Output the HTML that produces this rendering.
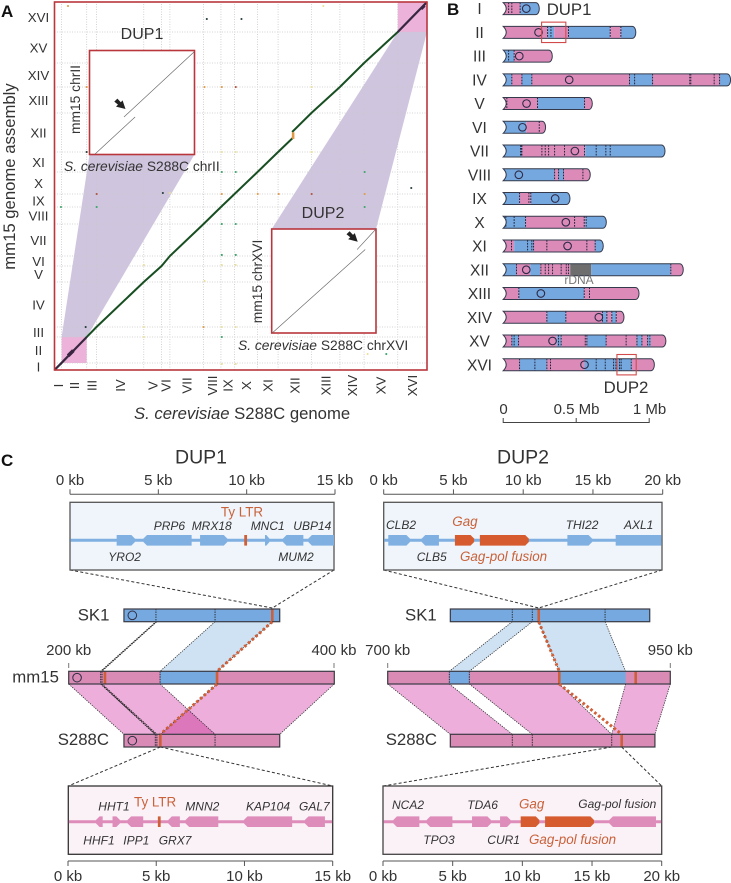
<!DOCTYPE html>
<html lang="en">
<head>
<meta charset="utf-8">
<title>Genome assembly figure</title>
<style>
html,body{margin:0;padding:0;background:#fff;width:731px;height:883px;overflow:hidden}
svg{display:block;font-family:"Liberation Sans",sans-serif}
text{fill:#333}
.gene{font-size:12px;font-style:italic}
.tick{font-size:15px;text-anchor:middle}
.orange{fill:#c9623a}
.track{font-size:16.8px}
.c-sub{font-size:13.3px;text-anchor:middle}
</style>
</head>
<body>
<svg id="figure" width="731" height="883" viewBox="0 0 731 883" xmlns="http://www.w3.org/2000/svg">
  <g id="panelA"></g>
  <text x="1" y="17" font-size="17" font-weight="bold" style="fill:#111">A</text>
  <text transform="translate(15,176.5) rotate(-90)" text-anchor="middle" font-size="16.7">mm15 genome assembly</text>
  <text x="134" y="419" font-size="16.7"><tspan font-style="italic">S. cerevisiae</tspan> S288C genome</text>
  <text x="142" y="39" text-anchor="middle" font-size="16">DUP1</text>
  <text x="323" y="218" text-anchor="middle" font-size="16">DUP2</text>
  <text transform="translate(80,99.5) rotate(-90)" text-anchor="middle" font-size="13.8">mm15 chrII</text>
  <text x="64" y="171" font-size="13.8"><tspan font-style="italic">S. cerevisiae</tspan> S288C chrII</text>
  <text transform="translate(262,281.5) rotate(-90)" text-anchor="middle" font-size="13.8">mm15 chrXVI</text>
  <text x="238" y="350" font-size="13.8"><tspan font-style="italic">S. cerevisiae</tspan> S288C chrXVI</text>

  <g id="panelB"></g>
  <text x="447" y="15" font-size="17" font-weight="bold" style="fill:#111">B</text>
  <text x="546.7" y="15" font-size="16.8">DUP1</text>
  <text x="626" y="393" text-anchor="middle" font-size="16.8">DUP2</text>
  <text x="579" y="284" text-anchor="middle" font-size="12" style="fill:#777">rDNA</text>
  <text class="tick" x="503.5" y="414">0</text>
  <text class="tick" x="576.5" y="414">0.5 Mb</text>
  <text class="tick" x="649.5" y="414">1 Mb</text>

  <g id="panelC"></g>
  <text x="1" y="466" font-size="17" font-weight="bold" style="fill:#111">C</text>
  <text x="201" y="463.5" text-anchor="middle" font-size="19.5">DUP1</text>
  <text x="523" y="463.5" text-anchor="middle" font-size="19.5">DUP2</text>

  <g>
    <text class="gene" x="153.7" y="530">PRP6</text>
    <text class="gene" x="191.7" y="530">MRX18</text>
    <text class="gene" x="250.7" y="530">MNC1</text>
    <text class="gene" x="293.3" y="530">UBP14</text>
    <text class="gene" x="108.3" y="561">YRO2</text>
    <text class="gene" x="278.3" y="561">MUM2</text>
    <text class="orange" x="242" y="516.7" text-anchor="middle" font-size="13.4">Ty LTR</text>
  </g>
  <g>
    <text class="gene" x="386" y="529">CLB2</text>
    <text class="gene" x="416.7" y="561">CLB5</text>
    <text class="gene" x="565.7" y="529">THI22</text>
    <text class="gene" x="624" y="529">AXL1</text>
    <text class="gene orange" x="452.3" y="526" style="font-size:13.4px">Gag</text>
    <text class="gene orange" x="460" y="561" style="font-size:13.4px">Gag-pol fusion</text>
  </g>
  <g>
    <text class="gene" x="98.3" y="810.7">HHT1</text>
    <text class="gene" x="185.3" y="810.7">MNN2</text>
    <text class="gene" x="246" y="810.7">KAP104</text>
    <text class="gene" x="299" y="810.7">GAL7</text>
    <text class="gene" x="83.3" y="844.3">HHF1</text>
    <text class="gene" x="123.3" y="844.3">IPP1</text>
    <text class="gene" x="158.7" y="844.3">GRX7</text>
    <text class="orange" x="134" y="806.7" font-size="13.4">Ty LTR</text>
  </g>
  <g>
    <text class="gene" x="392" y="809">NCA2</text>
    <text class="gene" x="467.3" y="809">TDA6</text>
    <text class="gene" x="578.3" y="808">Gag-pol fusion</text>
    <text class="gene" x="423.3" y="844">TPO3</text>
    <text class="gene" x="487.3" y="844">CUR1</text>
    <text class="gene orange" x="519" y="808.3" style="font-size:13.4px">Gag</text>
    <text class="gene orange" x="529" y="844" style="font-size:13.4px">Gag-pol fusion</text>
  </g>

  <text class="track" x="77.7" y="620.7">SK1</text>
  <text class="track" x="12.3" y="682.7">mm15</text>
  <text class="track" x="57.7" y="745">S288C</text>
  <text class="track" x="405" y="620.7">SK1</text>
  <text class="track" x="385.7" y="745">S288C</text>
  <text class="tick" x="68.7" y="655">200 kb</text>
  <text class="tick" x="334" y="655">400 kb</text>
  <text class="tick" x="387.7" y="655">700 kb</text>
  <text class="tick" x="670.3" y="655">950 kb</text>
</svg>

<script>
/* ---------- Panel A data (kb) ---------- */
const chromNames = ['I','II','III','IV','V','VI','VII','VIII','IX','X','XI','XII','XIII','XIV','XV','XVI'];
const s288cLengthsKb = [230,813,317,1532,577,270,1091,563,440,745,667,1078,924,784,1091,948];
const mm15LengthsKb = [227,842,324,1459,518,324,1037,551,421,713,648,1264,842,778,1005,972];
const dotXKb = [437,4935,6058,8712,1042,4861,5421,5874,8333,1042,5421,5874,8333,5421,5874,10049,1366,3511,3738,5421,6586,7265,8333,10049,11560,210,1366,10049,5421,5874,5421,5874,5421,5874,2897,4861,1010,2897,4828,5421,5874,2897,5421,10146,10751,5421,5874];
const dotYKb = [11795,11374,11374,11795,9170,9170,9170,9170,9170,7064,7064,7064,7064,6416,6416,6416,5703,5736,5736,5703,5703,5703,5703,5703,5898,5282,5282,5282,4731,4731,3727,3727,3402,3402,3402,2884,1393,1393,1393,1393,1393,1069,1069,518,518,194,194];
const dotKinds = ['o','d','d','y','o','o','o','r','y','d','y','y','y','g','g','g','r','d','y','o','o','o','r','o','d','g','g','g','g','g','g','g','y','y','y','y','d','y','o','y','y','y','g','y','g','y','y'];
const alignmentBeforeRdnaX = [0,230,1043,1360,2892,3469,3739,4830,5393,5833,6578,7245,7718];
const alignmentBeforeRdnaY = [0,227,1069,1393,2852,3370,3694,4731,5282,5703,6416,7064,7518];
const alignmentAfterRdnaX = [7700,8323,9247,10031,11122,12070];
const alignmentAfterRdnaY = [7712,8328,9170,9948,10953,11925];
const chrIIBumpX = [440,610];
const chrIIBumpY = [460,630];
const chrXVIBumpX = [11880,11990];
const chrXVIBumpY = [11700,11810];
const dup1InsetSegmentsX = [[43,353],[267,809]];
const dup1InsetSegmentsY = [[4,304],[304,830]];
const dup2InsetSegmentsX = [[10,850],[776,948]];
const dup2InsetSegmentsY = [[5,780],[780,972]];

/* ---------- Panel B data (Mb) ---------- */
const chromLengthsMb = [.249,.91,.338,1.559,.612,.292,1.11,.598,.459,.708,.687,1.235,.932,.829,1.116,1.037];
const centromeresMb = [.158,.242,.11,.452,.16,.132,.491,.107,.356,.429,.441,.158,.258,.655,.338,.557];
const segmentColors = ['pb','pbpbpb','bp','bpbpbpb','pbp','bp','bpb','bpbp','bpb','bpb','pbpb','bpbpgbp','pbp','pbpbpbp','pbpbpbpbpbp','pbpbp'];
const breakpointsMb = [
 [.116],[.304,.349,.447,.733,.806],[.075],[.059,.128,.196,.865,1.023,1.482],[.235,.557],[.158],[.128,.562],[.352,.379,.413],[.112,.189],[.153,.562],[.075,.208,.63],[.091,.185,.253,.459,.603,1.148],[.107,.555],[.299,.429,.68,.71,.744,.774],[.059,.105,.368,.397,.573,.705,.916,.95,.989,1.011],[.112,.299,.557,.881]
];
const dashesMb = [
 [.037,.059,.116],[.304,.327,.447,.733,.806],[.037,.075],[.059,.128,.196,.865,.9,1.023,1.278,1.285,1.445,1.482],[.025,.235,.557],[.247],[.119,.124,.128,.265,.288,.311,.352,.42,.557,.637,.703,.733],[.352,.379,.413,.546],[.112,.176,.189],[.018,.075,.153,.489,.555,.568],[.057,.167,.196,.208,.299,.573,.63],[.091,.258,.288,.311,.338,.397,.432,.447,1.148],[.107,.555,.591],[.299,.429,.68,.71,.744,.774],[.059,.075,.105,.379,.397,.562,.573,.705,.842,.916,.95,.989,1.005],[.112,.217,.299,.324,.637,.699,.756,.772,.797,.808,.877]
];
const dupBoxChrom = [1,15];
const dupBoxStartMb = [.263,.779];
const dupBoxEndMb = [.429,.911];
const scaleTicksMb = [0,.5,1];

/* ---------- Panel C data ---------- */
const dup1TopGeneStart = [2.65,4.17,7.39,11.08,12.1,13.54];
const dup1TopGeneEnd = [3.69,6.91,8.94,11.33,13.26,15];
const dup1TopGeneDir = [1,-1,1,1,-1,-1];
const dup1BottomGeneStart = [1.57,2.51,3.36,5.67,6.65,9.96,13.42];
const dup1BottomGeneEnd = [1.95,2.93,4.25,6.33,8.51,12.7,14.56];
const dup1BottomGeneDir = [-1,1,-1,-1,-1,-1,-1];
const dup2TopGeneStart = [.33,2.73,13.2,16.67];
const dup2TopGeneEnd = [1.89,3.97,14.98,19.95];
const dup2TopGeneDir = [1,-1,1,0];
const dup2BottomGeneStart = [.74,3.13,6.39,8.4,16.24];
const dup2BottomGeneEnd = [2.61,4.98,7.75,9.16,19.59];
const dup2BottomGeneDir = [-1,-1,1,1,-1];
const dup2TopTyStart = [5.12,6.91];
const dup2TopTyEnd = [6.5,10.43];
const dup2BottomTyStart = [9.88,11.63];
const dup2BottomTyEnd = [11.22,15.14];
const dup1TopLtrKb = [9.98];
const dup1BottomLtrKb = [5.16];
const dup1RulerTicks = [0,5,10,15];
const dup2RulerTicks = [0,5,10,15,20];

const dup1Sk1Kb = {start:241.6,end:358.9,cen:247.9,dashes:[265.7,310.2],ltr:[353.3]};
const dup1Mm15Kb = {start:200,end:400,cen:206.3,dashes:[224.1,225.1,268.8,311.7],ltr:[227.3,311.7]};
const dup1S288cKb = {start:241.6,end:358.9,cen:247.9,dashes:[265.2,266.4,310.2],ltr:[269]};
const dup1Mm15BlueKb = [[268.8,311.7]];
const dup1BlueRibbonsKb = [[310.2,353.3,268.8,311.7]];
const dup1PinkRibbonsKb = [[200,224.1,241.6,265.2],[224.1,268.8,265.2,310.2],[311.7,400,269,358.9]];
const dup1UpperLinksKb = [[265.7,224.1],[266.3,224.9]];
const dup1LowerLinksKb = [[224.1,265.2],[225.1,266.4]];
const dup2Sk1Kb = {start:755.4,end:931.8,dashes:[810.2,827.9,892.3],ltr:[833.6]};
const dup2Mm15Kb = {start:700,end:950,dashes:[754.5,772.2],ltr:[851.8,919.4]};
const dup2S288cKb = {start:755.4,end:936.4,dashes:[810.2,827.9,898.2],ltr:[907]};
const dup2Mm15BlueKb = [[754.5,772.2],[851.8,910.5]];
const dup2BlueRibbonsKb = [[810.2,827.9,754.5,772.2],[833.6,892.3,851.8,910.5]];
const dup2PinkRibbonsKb = [[700,754.5,755.4,810.2],[772.2,851.8,827.9,898.2],[910.5,950,898.2,936.4]];

const NS = 'http://www.w3.org/2000/svg';
function mk(parent, tag, attrs) {
  const e = document.createElementNS(NS, tag);
  for (const k in attrs) e.setAttribute(k, attrs[k]);
  parent.appendChild(e);
  return e;
}
const cumulate = a => { let s = 0; return [0].concat(a.map(v => (s += v))); };

/* ---------- Panel A ---------- */
const A = document.getElementById('panelA');
const FX0 = 54.5, FX1 = 427, FY0 = 370, FY1 = 2;
const sCum = cumulate(s288cLengthsKb), mCum = cumulate(mm15LengthsKb);
const ax = kb => FX0 + kb * (FX1 - FX0) / sCum[16];
const ay = kb => FY0 - kb * (FY0 - FY1) / mCum[16];
const RED = '#b9363d';

const dup1Inset = {x0:89.5,x1:194.5,y0:154.5,y1:50.5,xMax:s288cLengthsKb[1],yMax:mm15LengthsKb[1]};
const dup2Inset = {x0:271.7,x1:376,y0:333,y1:229,xMax:s288cLengthsKb[15],yMax:mm15LengthsKb[15]};

const dup1Fan = mk(A,'polygon',{points:`${ax(sCum[1])},${ay(mCum[2])} ${ax(sCum[2])},${ay(mCum[2])} ${dup1Inset.x1},${dup1Inset.y0} ${dup1Inset.x0},${dup1Inset.y0}`,fill:'#d0c5df'});


const dup2Fan = mk(A,'polygon',{points:`${ax(sCum[15])},${ay(mCum[15])} ${ax(sCum[16])},${ay(mCum[15])} ${dup2Inset.x1},${dup2Inset.y1} ${dup2Inset.x0},${dup2Inset.y1}`,fill:'#d0c5df'});


const dup1Pink = mk(A,'rect',{x:ax(sCum[1]),y:ay(mCum[2]),width:ax(sCum[2])-ax(sCum[1]),height:ay(mCum[1])-ay(mCum[2]),fill:'#ecb2da'});


const dup2Pink = mk(A,'rect',{x:ax(sCum[15]),y:ay(mCum[16]),width:ax(sCum[16])-ax(sCum[15]),height:ay(mCum[15])-ay(mCum[16]),fill:'#ecb2da'});



for (let i = 1; i < 16; i++) {
  const vg = mk(A,'line',{x1:ax(sCum[i]),x2:ax(sCum[i]),y1:FY0,y2:FY1,stroke:'#c8c8c8','stroke-width':.8,'stroke-dasharray':'1 1.5'});
  
  
  const hg = mk(A,'line',{x1:FX0,x2:FX1,y1:ay(mCum[i]),y2:ay(mCum[i]),stroke:'#c8c8c8','stroke-width':.8,'stroke-dasharray':'1 1.5'});
  
  
}

const dotColor = {g:'#3aa36a',d:'#243a3a',o:'#e09a45',y:'#ecdf8f',r:'#b0513a'};
dotXKb.forEach((x, i) => {
  const d = mk(A,'circle',{cx:ax(x),cy:ay(dotYKb[i]),r:dotKinds[i]==='y'?1:1.05,fill:dotColor[dotKinds[i]]});
  
  
});

const toPts = (xs, ys) => xs.map((x, i) => `${ax(x)},${ay(ys[i])}`).join(' ');
const lineA = mk(A,'polyline',{points:toPts(alignmentBeforeRdnaX,alignmentBeforeRdnaY),fill:'none',stroke:'#184f22','stroke-width':2});


const lineB = mk(A,'polyline',{points:toPts(alignmentAfterRdnaX,alignmentAfterRdnaY),fill:'none',stroke:'#184f22','stroke-width':2});


const chrIILine = mk(A,'line',{x1:ax(0),y1:ay(0),x2:ax(sCum[2]),y2:ay(mCum[2]),stroke:'#3a2642','stroke-width':2});


const chrXVILine = mk(A,'line',{x1:ax(sCum[15]),y1:ay(mCum[15]),x2:ax(sCum[16]),y2:ay(mCum[16]),stroke:'#3a2642','stroke-width':2});


const chrIIBump = mk(A,'line',{x1:ax(chrIIBumpX[0]),y1:ay(chrIIBumpY[0]),x2:ax(chrIIBumpX[1]),y2:ay(chrIIBumpY[1]),stroke:'#3a2642','stroke-width':3.6});


const chrXVIBump = mk(A,'line',{x1:ax(chrXVIBumpX[0]),y1:ay(chrXVIBumpY[0]),x2:ax(chrXVIBumpX[1]),y2:ay(chrXVIBumpY[1]),stroke:'#3a2642','stroke-width':3});


const rdnaMark = mk(A,'rect',{x:ax(7690),y:ay(7700),width:2.6,height:6.5,fill:'#e09a45'});



const frame = mk(A,'rect',{x:FX0,y:FY1,width:FX1-FX0,height:FY0-FY1,fill:'none',stroke:RED,'stroke-width':1.6});



chromNames.forEach((n, i) => {
  const yl = mk(A,'text',{x:38.5,y:(ay(mCum[i])+ay(mCum[i+1]))/2+4.8,'text-anchor':'middle','font-size':13.3});
  yl.textContent = n;
  
  
  const xm = (ax(sCum[i])+ax(sCum[i+1]))/2;
  const xl = mk(A,'text',{transform:`translate(${xm+4.8},385.5) rotate(-90)`,'text-anchor':'middle','font-size':13.3});
  xl.textContent = n;
  
  
});

function drawInset(ins, segX, segY) {
  const box = mk(A,'rect',{x:ins.x0,y:ins.y1,width:ins.x1-ins.x0,height:ins.y0-ins.y1,fill:'#fff',stroke:RED,'stroke-width':1.6});
  
  
  const ix = k => ins.x0 + k * (ins.x1 - ins.x0) / ins.xMax;
  const iy = k => ins.y0 - k * (ins.y0 - ins.y1) / ins.yMax;
  segX.forEach((s, i) => {
    const l = mk(A,'line',{x1:ix(s[0]),y1:iy(segY[i][0]),x2:ix(s[1]),y2:iy(segY[i][1]),stroke:'#666','stroke-width':.65});
    
    
  });
}
drawInset(dup1Inset, dup1InsetSegmentsX, dup1InsetSegmentsY);
drawInset(dup2Inset, dup2InsetSegmentsX, dup2InsetSegmentsY);
const arrow1 = mk(A,'polygon',{points:'114.3,101.6 117.4,98.6 120.8,102.2 122.6,100.4 125.5,109 116,106.6 118,104.6',fill:'#222'});


const arrow2 = mk(A,'polygon',{points:'346.5,234.3 349.6,231.3 353,234.9 354.8,233.1 357.7,241.7 348.2,239.3 350.2,237.3',fill:'#222'});



/* ---------- Panel B ---------- */
const B = document.getElementById('panelB');
const mbX = m => 503.2 + m * 146;
const rowY = i => 8.6 + 23.74 * i;
const segFill = {p:'#dc8bb9',b:'#75a8df',g:'#6e6e6e'};
const defs = mk(B,'defs',{});
chromNames.forEach((n, i) => {
  const y = rowY(i), x0 = mbX(0), xe = mbX(chromLengthsMb[i]);
  const shape = `M${x0},${y-6} L${xe-4},${y-6} C${xe+1},${y-6} ${xe+1},${y+6} ${xe-4},${y+6} L${x0},${y+6} Q${x0+6},${y} ${x0},${y-6} Z`;
  const clip = mk(defs,'clipPath',{id:'chromclip'+i});
  mk(clip,'path',{d:shape});
  const g = mk(B,'g',{'clip-path':`url(#chromclip${i})`});
  
  
  const edges = [0].concat(breakpointsMb[i], [chromLengthsMb[i] + .02]);
  for (let s = 0; s < edges.length - 1; s++) {
    const r = mk(g,'rect',{x:mbX(edges[s]),y:y-6,width:mbX(edges[s+1])-mbX(edges[s]),height:12,fill:segFill[segmentColors[i][s]]});
    
    
  }
  dashesMb[i].forEach(m => {
    const d = mk(g,'line',{x1:mbX(m),x2:mbX(m),y1:y-6,y2:y+6,stroke:'#23233a','stroke-width':1,'stroke-dasharray':'1.7 1.2'});
    
    
  });
  const outline = mk(B,'path',{d:shape,fill:'none',stroke:'#343a4c','stroke-width':1});
  
  
  const c = mk(B,'circle',{cx:mbX(centromeresMb[i]),cy:y,r:3.8,fill:'none',stroke:'#2f2a48','stroke-width':1.1});
  
  
  const l = mk(B,'text',{x:479.5,y:y+5.6,'text-anchor':'middle','font-size':15.5});
  l.textContent = n;
  
  
});
dupBoxChrom.forEach((ci, i) => {
  const b = mk(B,'rect',{x:mbX(dupBoxStartMb[i]),y:rowY(ci)-10.2,width:mbX(dupBoxEndMb[i])-mbX(dupBoxStartMb[i]),height:20.4,fill:'none',stroke:'#d24a4a','stroke-width':1.1});
  
  
});
const scaleBar = mk(B,'line',{x1:mbX(0),x2:mbX(1),y1:422.5,y2:422.5,stroke:'#444','stroke-width':1});


scaleTicksMb.forEach(m => {
  const t = mk(B,'line',{x1:mbX(m),x2:mbX(m),y1:418,y2:423,stroke:'#444','stroke-width':1});
  
  
});

/* ---------- Panel C ---------- */
const C = document.getElementById('panelC');
const ORANGE = '#d65c2f', LTR = '#cf5f38', BLUE = '#76a9df', PINK = '#dc8bb9';

function ruler(x0, x1, y, dir, ticks, maxKb) {
  const sx = k => x0 + k * (x1 - x0) / maxKb;
  const base = mk(C,'line',{x1:x0,x2:x1,y1:y,y2:y,stroke:'#555','stroke-width':1});
  
  
  ticks.forEach(k => {
    const t = mk(C,'line',{x1:sx(k),x2:sx(k),y1:y,y2:y+dir*5,stroke:'#555','stroke-width':1});
    
    
    const l = mk(C,'text',{class:'tick',x:sx(k),y:dir<0?y-9.3:y+20});
    l.textContent = k + ' kb';
    
    
  });
}
function geneShape(g, sx, y, a, b, dir, fill) {
  const h = 5.3, tip = Math.min(3.6, (sx(b)-sx(a))*.7), t = 1.7, x1 = sx(a), x2 = sx(b);
  let pts;
  if (dir > 0) pts = [[x1,y-h],[x2-tip,y-h],[x2,y-t],[x2,y+t],[x2-tip,y+h],[x1,y+h]];
  else if (dir < 0) pts = [[x1,y-t],[x1+tip,y-h],[x2,y-h],[x2,y+h],[x1+tip,y+h],[x1,y+t]];
  else pts = [[x1,y-h],[x2,y-h],[x2,y+h],[x1,y+h]];
  return mk(g,'polygon',{points:pts.map(p => p.join(',')).join(' '),fill:fill});
}
function geneBox(x0, x1, y0, y1, trackY, boxFill, boxStroke, geneFill, maxKb, starts, ends, dirs, tyS, tyE, ltr) {
  const box = mk(C,'rect',{x:x0,y:y0,width:x1-x0,height:y1-y0,fill:boxFill,stroke:boxStroke,'stroke-width':1.3});
  
  
  const sx = k => x0 + k * (x1 - x0) / maxKb;
  const bb = mk(C,'line',{x1:x0+.6,x2:x1-.6,y1:trackY,y2:trackY,stroke:geneFill,'stroke-width':3});
  
  
  starts.forEach((s, i) => {
    const g = geneShape(C, sx, trackY, s, ends[i], dirs[i], geneFill);
    
    
  });
  tyS.forEach((s, i) => {
    const g = geneShape(C, sx, trackY, s, tyE[i], 1, ORANGE);
    
    
  });
  ltr.forEach(k => {
    const m = mk(C,'rect',{x:sx(k)-1.4,y:trackY-5.3,width:2.8,height:10.6,fill:LTR});
    
    
  });
}
function connector(x1, y1, x2, y2) {
  const l = mk(C,'line',{x1,y1,x2,y2,stroke:'#333','stroke-width':1,'stroke-dasharray':'3 2.2'});
  
  
}
function comparison(sx, sk, mm, s2, mmBlue, blueRibbons, pinkRibbons, redPaths, blend, upperLinks, lowerLinks) {
  const skTop = 609, skBot = 621.7, mTop = 671.3, mBot = 684, sTop = 734.3, sBot = 747;
  pinkRibbons.forEach(r => {
    const p = mk(C,'polygon',{points:`${sx(r[0])},${mBot} ${sx(r[1])},${mBot} ${sx(r[3])},${sTop} ${sx(r[2])},${sTop}`,fill:'#edaedb',style:blend?'mix-blend-mode:multiply':''});
    
    
    [[0,2],[1,3]].forEach(e => {
      const d = mk(C,'line',{x1:sx(r[e[0]]),y1:mBot,x2:sx(r[e[1]]),y2:sTop,stroke:'#333','stroke-width':.8,'stroke-dasharray':'1.3 1.1'});
      
      
    });
  });
  blueRibbons.forEach(r => {
    const p = mk(C,'polygon',{points:`${sx(r[0])},${skBot} ${sx(r[1])},${skBot} ${sx(r[3])},${mTop} ${sx(r[2])},${mTop}`,fill:'#cfe2f4'});
    
    
    [[0,2],[1,3]].forEach(e => {
      const d = mk(C,'line',{x1:sx(r[e[0]]),y1:skBot,x2:sx(r[e[1]]),y2:mTop,stroke:'#333','stroke-width':.8,'stroke-dasharray':'1.3 1.1'});
      
      
    });
  });
  upperLinks.forEach(k => {
    const d = mk(C,'line',{x1:sx(k[0]),y1:skBot,x2:sx(k[1]),y2:mTop,stroke:'#222','stroke-width':.9,'stroke-dasharray':'1.4 .9'});
    
    
  });
  lowerLinks.forEach(k => {
    const d = mk(C,'line',{x1:sx(k[0]),y1:mBot,x2:sx(k[1]),y2:sTop,stroke:'#222','stroke-width':.9,'stroke-dasharray':'1.4 .9'});
    
    
  });
  [[sk,skTop,skBot,BLUE],[mm,mTop,mBot,'#d98ab5'],[s2,sTop,sBot,'#d98ab5']].forEach(t => {
    const spec = t[0], y0 = t[1], y1 = t[2];
    const bar = mk(C,'rect',{x:sx(spec.start),y:y0,width:sx(spec.end)-sx(spec.start),height:y1-y0,fill:t[3]});
    
    
    if (spec === mm) mmBlue.forEach(b => {
      const seg = mk(C,'rect',{x:sx(b[0]),y:y0,width:sx(b[1])-sx(b[0]),height:y1-y0,fill:BLUE});
      
      
    });
    spec.dashes.forEach(k => {
      const d = mk(C,'line',{x1:sx(k),x2:sx(k),y1:y0,y2:y1,stroke:'#222','stroke-width':.9,'stroke-dasharray':'1.4 1.1'});
      
      
    });
    spec.ltr.forEach(k => {
      const d = mk(C,'rect',{x:sx(k)-1.3,y:y0,width:2.6,height:y1-y0,fill:LTR});
      
      
    });
    const o = mk(C,'rect',{x:sx(spec.start),y:y0,width:sx(spec.end)-sx(spec.start),height:y1-y0,fill:'none',stroke:'#3a3a44','stroke-width':1.2});
    
    
    if (spec.cen !== undefined) {
      const c = mk(C,'circle',{cx:sx(spec.cen),cy:(y0+y1)/2,r:4.3,fill:'none',stroke:'#2f2f45','stroke-width':1});
      
      
    }
  });
  redPaths.forEach(p => {
    const ya = p[2] === 'up' ? skBot : mBot, yb = p[2] === 'up' ? mTop : sTop;
    const l = mk(C,'line',{x1:sx(p[0]),y1:ya,x2:sx(p[1]),y2:yb,stroke:'#d0603a','stroke-width':3,'stroke-dasharray':'2.6 2.4'});
    
    
  });
}

const dup1X = kb => 68.7 + (kb - 200) * 1.328;
const dup2X = kb => 387.7 + (kb - 700) * 1.1304;

connector(70, 570, dup1X(dup1Sk1Kb.ltr[0]), 608);
connector(334, 570, dup1X(dup1Sk1Kb.ltr[0]), 608);
connector(383.7, 570, dup2X(dup2Sk1Kb.ltr[0]), 608);
connector(662, 570, dup2X(dup2Sk1Kb.ltr[0]), 608);
connector(dup1X(dup1S288cKb.ltr[0]), 747, 68.3, 786);
connector(dup1X(dup1S288cKb.ltr[0]), 747, 332.7, 786);
connector(dup2X(dup2S288cKb.dashes[2]), 747, 383, 786);
connector(dup2X(dup2S288cKb.ltr[0]), 747, 661.7, 786);

ruler(70, 335, 494.3, -1, dup1RulerTicks, 15);
ruler(383.7, 662.7, 494.3, -1, dup2RulerTicks, 20);
ruler(68, 332.7, 861, 1, dup1RulerTicks, 15);
ruler(383, 661.7, 861, 1, dup2RulerTicks, 20);

geneBox(70, 334, 502.3, 570, 540.3, '#eff5fb', '#555', '#80b0e2', 15, dup1TopGeneStart, dup1TopGeneEnd, dup1TopGeneDir, [], [], dup1TopLtrKb);
geneBox(383.7, 662, 502.3, 570, 540.3, '#eff5fb', '#555', '#80b0e2', 20, dup2TopGeneStart, dup2TopGeneEnd, dup2TopGeneDir, dup2TopTyStart, dup2TopTyEnd, []);
geneBox(68.3, 332.7, 786, 854.3, 821.7, '#fbf2f8', '#333', '#de8dbb', 15, dup1BottomGeneStart, dup1BottomGeneEnd, dup1BottomGeneDir, [], [], dup1BottomLtrKb);
geneBox(383, 661.7, 786, 854.3, 821.7, '#fbf2f8', '#444', '#de8dbb', 20, dup2BottomGeneStart, dup2BottomGeneEnd, dup2BottomGeneDir, dup2BottomTyStart, dup2BottomTyEnd, []);

comparison(dup1X, dup1Sk1Kb, dup1Mm15Kb, dup1S288cKb, dup1Mm15BlueKb, dup1BlueRibbonsKb, dup1PinkRibbonsKb, [[353.3,311.7,'up'],[311.7,269,'down']], true, dup1UpperLinksKb, dup1LowerLinksKb);
comparison(dup2X, dup2Sk1Kb, dup2Mm15Kb, dup2S288cKb, dup2Mm15BlueKb, dup2BlueRibbonsKb, dup2PinkRibbonsKb, [[833.6,851.8,'up'],[851.8,907,'down']], false, [], []);

[68.7,334,387.7,670.3].forEach(x => {
  const t = mk(C,'line',{x1:x,x2:x,y1:663,y2:668,stroke:'#777','stroke-width':1});
  
  
});
</script>
</body>
</html>
